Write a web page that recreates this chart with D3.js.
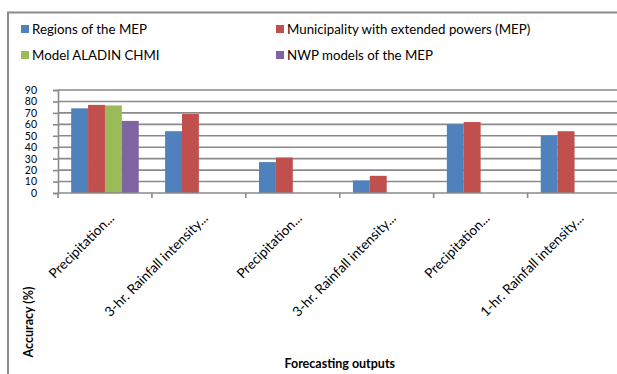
<!DOCTYPE html>
<html>
<head>
<meta charset="utf-8">
<script src="https://cdn.jsdelivr.net/npm/d3@7"></script>
<style>
  body { margin: 0; background: #fff; }
  svg { display: block; font-family: Lato, "Open Sans", sans-serif; }
</style>
</head>
<body>
<svg id="chart"></svg>
<script>
// categories on the x axis (truncated as in the original)
let categories = [
  "Precipitation...",
  "3-hr. Rainfall intensity...",
  "Precipitation... ",
  "3-hr. Rainfall intensity... ",
  "Precipitation...  ",
  "1-hr. Rainfall intensity..."
]
let seriesNames = [
  "Regions of the MEP",
  "Municipality with extended powers (MEP)",
  "Model ALADIN CHMI",
  "NWP models of the MEP"
]
let seriesColors = ["#4F81BD", "#C0504D", "#9BBB59", "#8064A2"]

// accuracy values (%), null = no bar
let regionsMEP   = [74, 54, 27, 11, 60, 50]
let municipality = [77, 69, 31, 15, 62, 54]
let aladin       = [76.5, null, null, null, null, null]
let nwpModels    = [63, null, null, null, null, null]
let yTicks = [0, 10, 20, 30, 40, 50, 60, 70, 80, 90]

let allSeries = [regionsMEP, municipality, aladin, nwpModels]

function getConfig() {
  let width = 617
  let height = 374
  let margin = { top: 90, left: 58, right: -4.5, bottom: 181 }
  let bodyWidth = width - margin.left - margin.right
  let bodyHeight = height - margin.top - margin.bottom
  let container = d3.select("#chart")
    .attr("width", width)
    .attr("height", height)
  return { width, height, margin, bodyWidth, bodyHeight, container }
}

function getScales(config) {
  let { margin, bodyWidth, bodyHeight } = config
  let xScale = d3.scaleBand()
    .domain(categories)
    .range([margin.left, margin.left + bodyWidth])
  let xInner = d3.scaleBand()
    .domain(seriesNames)
    .range([0, xScale.bandwidth()])
    .paddingInner(0)
    .paddingOuter(0.78)
  let yScale = d3.scaleLinear()
    .domain([0, 90])
    .range([margin.top + bodyHeight, margin.top])
  return { xScale, xInner, yScale }
}

function drawFrame(config) {
  let { container } = config
  container.append("rect")
    .attr("width", 617).attr("height", 374)
    .attr("fill", "#fff")
  // chart area border (runs off the right and bottom of the picture)
  container.append("rect")
    .attr("x", 8).attr("y", 12.5)
    .attr("width", 700).attr("height", 400)
    .attr("fill", "none")
    .attr("stroke", "#8c8c8c")
    .attr("stroke-width", 2)
}

function drawAxes(scales, config) {
  let { container, margin, bodyWidth } = config
  let { yScale } = scales
  let x0 = margin.left, x1 = margin.left + bodyWidth

  // gridlines
  container.append("g")
    .selectAll("line")
    .data(yTicks.filter(d => d > 0))
    .join("line")
      .attr("x1", x0).attr("x2", x1)
      .attr("y1", d => yScale(d)).attr("y2", d => yScale(d))
      .attr("stroke", "#8a8a8a")
      .attr("stroke-width", 1.6)

  // y axis
  let yAxis = container.append("g")
    .attr("transform", `translate(${x0},0)`)
    .call(d3.axisLeft(yScale).tickValues(yTicks).tickSize(5).tickPadding(16))
  yAxis.select(".domain").attr("stroke", "#8a8a8a").attr("stroke-width", 1.6)
  yAxis.selectAll(".tick line").attr("stroke", "#8a8a8a").attr("stroke-width", 1.6)
  yAxis.selectAll("text")
    .attr("font-family", "Lato, sans-serif")
    .attr("font-size", 10.5)
    .attr("fill", "#000")
}

function drawBars(scales, config) {
  let { container } = config
  let { xScale, xInner, yScale } = scales
  let cells = []
  allSeries.forEach((vals, si) => {
    vals.forEach((v, ci) => {
      if (v != null) cells.push({ cat: categories[ci], series: seriesNames[si], color: seriesColors[si], value: v })
    })
  })
  container.append("g")
    .selectAll("rect")
    .data(cells)
    .join("rect")
      .attr("x", d => xScale(d.cat) + xInner(d.series))
      .attr("width", xInner.bandwidth())
      .attr("y", d => yScale(d.value))
      .attr("height", d => yScale(0) - yScale(d.value))
      .attr("fill", d => d.color)
}

function drawXAxis(scales, config) {
  let { container, margin, bodyWidth } = config
  let { xScale, yScale } = scales
  let y0 = yScale(0)
  let g = container.append("g")
  g.append("line")
    .attr("x1", margin.left).attr("x2", margin.left + bodyWidth)
    .attr("y1", y0).attr("y2", y0)
    .attr("stroke", "#8a8a8a").attr("stroke-width", 1.6)
  // tick marks between categories
  let bounds = categories.map(c => xScale(c)).concat([margin.left + bodyWidth])
  g.selectAll(".xtick")
    .data(bounds)
    .join("line")
      .attr("class", "xtick")
      .attr("x1", d => d).attr("x2", d => d)
      .attr("y1", y0).attr("y2", y0 + 5)
      .attr("stroke", "#8a8a8a").attr("stroke-width", 1.6)
  // rotated labels
  g.selectAll(".xlabel")
    .data(categories)
    .join("text")
      .attr("class", "xlabel")
      .attr("transform", d => `translate(${xScale(d) + xScale.bandwidth() / 2 + 10},${y0 + 26}) rotate(-45)`)
      .attr("text-anchor", "end")
      .attr("font-size", 13.6)
      .attr("fill", "#000")
      .text(d => d.trim())
}

function drawTitles(scales, config) {
  let { container, margin, bodyWidth } = config
  container.append("text")
    .attr("x", margin.left + bodyWidth / 2)
    .attr("y", 368)
    .attr("text-anchor", "middle")
    .attr("font-size", 12.5)
    .attr("font-weight", "bold")
    .text("Forecasting outputs")
  container.append("text")
    .attr("transform", "translate(33,322) rotate(-90)")
    .attr("text-anchor", "middle")
    .attr("font-size", 12.5)
    .attr("font-weight", "bold")
    .text("Accuracy (%)")
}

function drawLegend(config) {
  let { container } = config
  let spots = [[21, 29], [276, 29], [21, 55], [276, 55]]
  let items = container.append("g")
    .selectAll("g")
    .data(seriesNames)
    .join("g")
      .attr("transform", (d, i) => `translate(${spots[i][0]},${spots[i][1]})`)
  items.append("rect")
    .attr("x", 0).attr("y", -4)
    .attr("width", 8).attr("height", 8)
    .attr("fill", (d, i) => seriesColors[i])
  items.append("text")
    .attr("x", 11)
    .attr("y", 4.5)
    .attr("font-size", 13.3)
    .attr("fill", "#000")
    .text(d => d)
}

function drawChart() {
  let config = getConfig()
  let scales = getScales(config)
  drawFrame(config)
  drawAxes(scales, config)
  drawBars(scales, config)
  drawXAxis(scales, config)
  drawTitles(scales, config)
  drawLegend(config)
}

drawChart()
</script>
</body>
</html>
